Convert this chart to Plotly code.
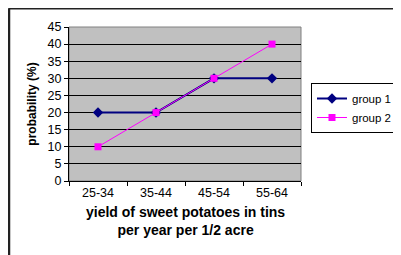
import plotly.graph_objects as go

categories = ["25-34", "35-44", "45-54", "55-64"]
group1 = [20, 20, 30, 30]
group2 = [10, 20, 30, 40]
y_ticks = [0, 5, 10, 15, 20, 25, 30, 35, 40, 45]

# page is rendered with an 8px body margin, so the figure is sized/placed to compensate
OFF = 8
W, H = 401 - OFF, 255 - OFF
L, R, T, B = 69 - OFF, 100, 27 - OFF, 74
pw, ph = W - L - R, H - T - B

def px_x(px):
    return (px - OFF - L) / pw

def px_y(py):
    return (H - B - (py - OFF)) / ph

fig = go.Figure()
fig.add_trace(go.Scatter(
    x=categories, y=group1, name="group 1", mode="lines+markers",
    line=dict(color="#000080", width=2),
    marker=dict(symbol="diamond", size=8, color="#000080"),
))
fig.add_trace(go.Scatter(
    x=categories, y=group2, name="group 2", mode="lines+markers",
    line=dict(color="#FF00FF", width=1),
    marker=dict(symbol="square", size=7, color="#FF00FF"),
))

FAM = "Liberation Sans, Arial, sans-serif"
font = dict(family=FAM, size=12.5, color="black")

fig.update_layout(
    width=W, height=H,
    margin=dict(l=L, r=R, t=T, b=B, autoexpand=False),
    paper_bgcolor="white",
    plot_bgcolor="#C0C0C0",
    font=font,
    showlegend=True,
    legend=dict(
        x=px_x(311), y=px_y(83), xanchor="left", yanchor="top",
        bordercolor="black", borderwidth=1, bgcolor="white",
        font=dict(family=FAM, size=11.5, color="black"),
        tracegroupgap=0, itemwidth=30,
    ),
    xaxis=dict(
        type="category", range=[-0.5, 3.5], automargin=False,
        showgrid=False, showline=True, linecolor="black", linewidth=1,
        ticks="outside", ticklen=4, tickcolor="black", tickson="boundaries",
        tickfont=font, zeroline=False,
    ),
    yaxis=dict(
        range=[0, 45], tickvals=y_ticks, automargin=False,
        showgrid=True, gridcolor="black", gridwidth=1,
        showline=True, linecolor="black", linewidth=1,
        ticks="outside", ticklen=4, tickcolor="black",
        tickfont=font, zeroline=False,
        title=dict(text="<b>probability (%)</b>",
                   font=dict(family=FAM, size=12, color="black"),
                   standoff=8),
    ),
    shapes=[
        dict(type="rect", xref="paper", yref="paper", x0=0, x1=1, y0=0, y1=1,
             line=dict(color="#808080", width=1), layer="below"),
        dict(type="rect", xref="paper", yref="paper",
             x0=px_x(9), x1=px_x(450), y0=px_y(300), y1=px_y(8.7),
             line=dict(color="#222222", width=1.5)),
        dict(type="line", xref="paper", yref="paper",
             x0=px_x(9), x1=px_x(9), y0=px_y(300), y1=px_y(8.7),
             line=dict(color="#222222", width=2.5)),
    ],
    annotations=[
        dict(text="<b>yield of sweet potatoes in tins<br>per year per 1/2 acre</b>",
             xref="paper", yref="paper", x=0.5, y=px_y(202), xanchor="center", yanchor="top",
             showarrow=False,
             font=dict(family=FAM, size=14, color="black")),
    ],
)

fig.write_html("out.html")
